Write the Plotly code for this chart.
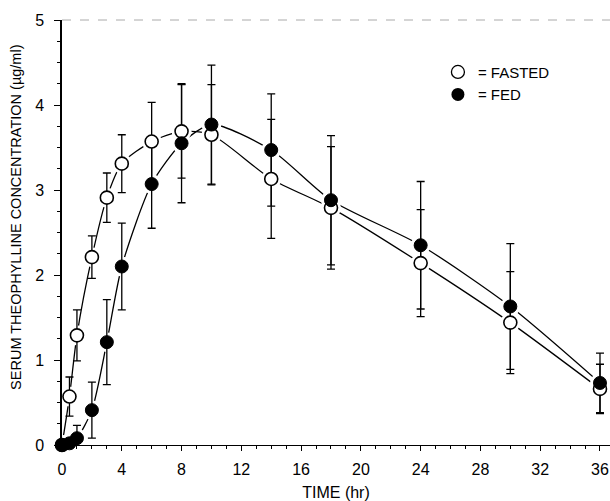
import plotly.graph_objects as go

# sampling times (hr)
time = [0, 0.5, 1, 2, 3, 4, 6, 8, 10, 14, 18, 24, 30, 36]

# serum theophylline (ug/ml)
fasted = [0, 0.57, 1.29, 2.21, 2.91, 3.31, 3.57, 3.69, 3.65, 3.13, 2.79, 2.14, 1.44, 0.66]
fasted_sd = [0, 0.23, 0.30, 0.25, 0.29, 0.34, 0.46, 0.55, 0.59, 0.70, 0.72, 0.63, 0.60, 0.29]

fed = [0, 0.02, 0.08, 0.41, 1.21, 2.10, 3.07, 3.55, 3.77, 3.47, 2.88, 2.35, 1.63, 0.73]
fed_sd = [0, 0.03, 0.15, 0.33, 0.50, 0.51, 0.52, 0.70, 0.70, 0.66, 0.76, 0.75, 0.74, 0.35]

fig = go.Figure()

# connecting curves
fig.add_trace(go.Scatter(x=time, y=fasted, mode="lines", line=dict(color="black", width=1.3, shape="spline", smoothing=0.7),
                         showlegend=False, hoverinfo="skip"))
fig.add_trace(go.Scatter(x=time, y=fed, mode="lines", line=dict(color="black", width=1.3, shape="spline", smoothing=0.7),
                         showlegend=False, hoverinfo="skip"))

# white halo so the lines stop short of the circles
fig.add_trace(go.Scatter(x=time + time, y=fasted + fed, mode="markers", marker=dict(size=20, color="white"),
                         showlegend=False, hoverinfo="skip", cliponaxis=False))

# error bars
fig.add_trace(go.Scatter(x=time, y=fasted, mode="markers", marker=dict(size=1, color="black"),
                         error_y=dict(type="data", array=fasted_sd, color="black", thickness=1.3, width=4),
                         showlegend=False, cliponaxis=False))
fig.add_trace(go.Scatter(x=time, y=fed, mode="markers", marker=dict(size=1, color="black"),
                         error_y=dict(type="data", array=fed_sd, color="black", thickness=1.3, width=4),
                         showlegend=False, cliponaxis=False))

# markers
fig.add_trace(go.Scatter(x=time, y=fasted, mode="markers", name="FASTED",
                         marker=dict(size=13, color="white", line=dict(color="black", width=1.6)),
                         showlegend=False, cliponaxis=False))
fig.add_trace(go.Scatter(x=time, y=fed, mode="markers", name="FED",
                         marker=dict(size=13, color="black", line=dict(color="black", width=1)),
                         showlegend=False, cliponaxis=False))

# legend entries
fig.add_trace(go.Scatter(x=[None], y=[None], mode="markers", name="= FASTED",
                         marker=dict(size=13, color="white", line=dict(color="black", width=1.3))))
fig.add_trace(go.Scatter(x=[None], y=[None], mode="markers", name="= FED",
                         marker=dict(size=13, color="black")))

fig.add_shape(type="line", xref="paper", yref="paper", x0=0, x1=1, y0=1, y1=1,
              line=dict(color="#aaa", width=1, dash="dash"))

fig.add_annotation(text="SERUM THEOPHYLLINE CONCENTRATION (\u00b5g/ml)", textangle=-90,
                   xref="paper", yref="paper", x=-0.067, y=0.535, xanchor="right", yanchor="middle",
                   showarrow=False, font=dict(size=14.5, color="black"))

fig.update_layout(
    width=610, height=501,
    margin=dict(l=62, r=0, t=20, b=56),
    paper_bgcolor="white", plot_bgcolor="white",
    font=dict(family="Liberation Sans, Arial, sans-serif", color="black"),
    legend=dict(x=0.686, y=0.916, xanchor="left", yanchor="top", font=dict(size=15),
                bgcolor="rgba(0,0,0,0)", itemwidth=30, tracegroupgap=0),
    xaxis=dict(range=[0, 36.67], tickvals=[0, 4, 8, 12, 16, 20, 24, 28, 32, 36], automargin=False,
               ticks="outside", ticklen=5, tickcolor="black", showgrid=False, zeroline=False,
               showline=True, linecolor="black", linewidth=1.3, tickfont=dict(size=16), ticklabelstandoff=5,
               minor=dict(dtick=1, ticks="outside", ticklen=3, tickcolor="black"),
               title=dict(text="TIME (hr)", font=dict(size=16), standoff=10)),
    yaxis=dict(range=[0, 5], tickvals=[0, 1, 2, 3, 4, 5], ticks="outside", ticklen=6, tickcolor="black",
               automargin=False, ticklabelstandoff=7,
               showgrid=False, zeroline=False, showline=True, linecolor="black", linewidth=1.5,
               tickfont=dict(size=16), minor=dict(dtick=0.25, ticks="outside", ticklen=3, tickcolor="black")),
)

# the page's default body margin would push the 610x501 figure off the window
fig.write_html("out.html", config={"displayModeBar": False},
               post_script="document.body.style.margin='0';")
